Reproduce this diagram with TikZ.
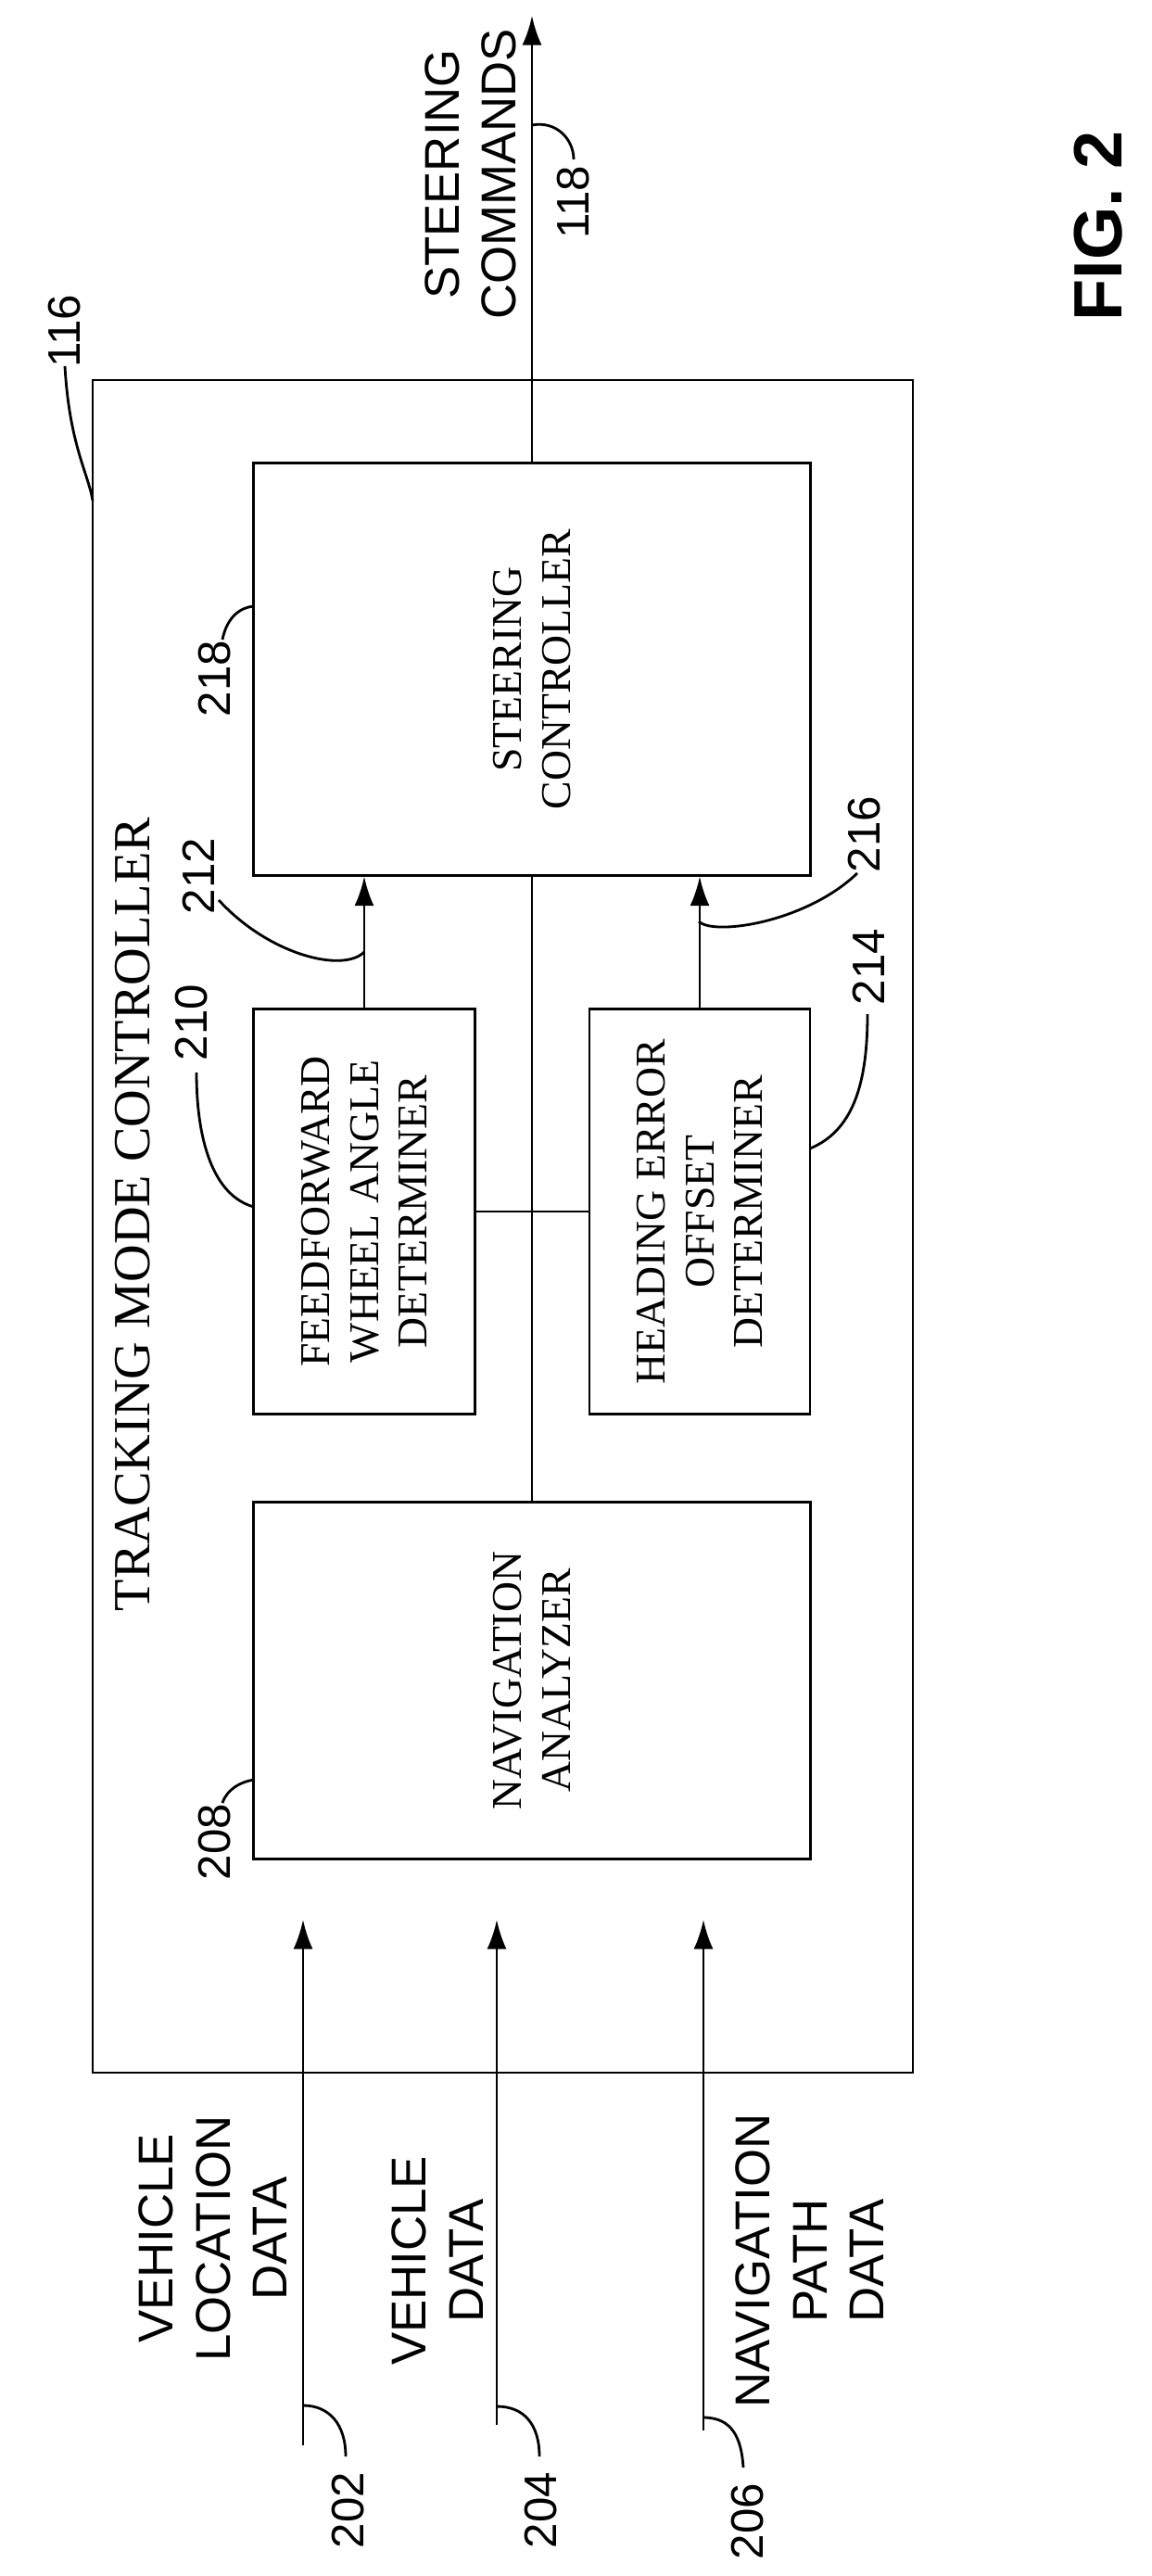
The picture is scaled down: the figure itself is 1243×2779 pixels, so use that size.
\documentclass[tikz,border=0pt]{standalone}
\usepackage{fontspec}
\setmainfont{Liberation Serif}
\setsansfont{Liberation Sans}
\usetikzlibrary{arrows.meta}

\tikzset{
  block/.style={draw, thick, rotate=90, align=center, font=\fontsize{13}{15}\selectfont},
  label/.style={rotate=90, font=\sffamily\fontsize{14}{16}\selectfont},
  data/.style={rotate=90, align=center, font=\sffamily\fontsize{15}{17.5}\selectfont},
  lead/.style={thick},
  flow/.style={thick, -{Latex[length=9pt,width=6pt]}}
}

\begin{document}
\begin{tikzpicture}[x=0.01cm, y=-0.01cm]
    \useasboundingbox (0,0) rectangle (1243,2779);

    % outer controller box
    \draw [thick] (100, 410) rectangle (985, 2236);
    \node [rotate=90, font=\fontsize{16}{18}\selectfont] (tmc) at (143, 1310) {TRACKING MODE CONTROLLER};

    % blocks
    \node [block, minimum width=4.44cm, minimum height=6.0cm] (steer) at (574, 722) {STEERING\\CONTROLLER};
    \node [block, minimum width=4.37cm, minimum height=2.39cm] (ffwd) at (393, 1307) {FEEDFORWARD\\WHEEL ANGLE\\DETERMINER};
    \node [block, minimum width=4.37cm, minimum height=2.38cm] (head) at (755, 1307) {HEADING ERROR\\OFFSET\\DETERMINER};
    \node [block, minimum width=3.84cm, minimum height=6.0cm] (nav) at (574, 1813) {NAVIGATION\\ANALYZER};

    % connections
    \draw [thick] (steer.west) -- (nav.east);
    \draw [thick] (ffwd.south) -- (head.north);
    \draw [flow] (ffwd.east) -- (ffwd.east |- steer.west);
    \draw [flow] (head.east) -- (head.east |- steer.west);
    \coordinate (out) at (574, 17);
    \draw [flow] (steer.east) -- (out);

    % inputs
    \coordinate (in1) at (327, 2638);
    \coordinate (in2) at (536, 2616);
    \coordinate (in3) at (759, 2622);
    \draw [flow] (in1) -- (327, 2071);
    \draw [flow] (in2) -- (536, 2071);
    \draw [flow] (in3) -- (759, 2071);
    \node [data] (d1) at (230, 2415) {VEHICLE\\LOCATION\\DATA};
    \node [data] (d2) at (472, 2439) {VEHICLE\\DATA};
    \node [data] (d3) at (874, 2439) {NAVIGATION\\PATH\\DATA};
    \node [data] (d4) at (508, 188) {STEERING\\COMMANDS};

    % reference numerals
    \node [label] (n116) at (70, 357) {116};
    \draw [lead] (70, 395) .. controls (75, 480) and (95, 510) .. (100, 540);
    \node [label] (n118) at (619, 218) {118};
    \draw [lead] (619, 172) .. controls (619, 150) and (600, 130) .. (574, 135);
    \node [label] (n218) at (232, 732) {218};
    \draw [lead] (240, 690) .. controls (245, 665) and (260, 655) .. (274, 654);
    \node [label] (n212) at (214, 945) {212};
    \draw [lead] (236, 971) .. controls (290, 1030) and (370, 1050) .. (393, 1027);
    \node [label] (n210) at (207, 1103) {210};
    \draw [lead] (212, 1157) .. controls (212, 1230) and (230, 1290) .. (274, 1302);
    \node [label] (n214) at (937, 1043) {214};
    \draw [lead] (936, 1094) .. controls (936, 1170) and (920, 1220) .. (874, 1239);
    \node [label] (n216) at (933, 900) {216};
    \draw [lead] (925, 942) .. controls (870, 995) and (770, 1010) .. (754, 994);
    \node [label] (n208) at (232, 1987) {208};
    \draw [lead] (240, 1945) .. controls (245, 1930) and (260, 1922) .. (274, 1920);
    \node [label] (n202) at (376, 2708) {202};
    \draw [lead] (373, 2650) .. controls (373, 2615) and (355, 2595) .. (327, 2595);
    \node [label] (n204) at (584, 2708) {204};
    \draw [lead] (582, 2650) .. controls (582, 2615) and (565, 2596) .. (536, 2596);
    \node [label] (n206) at (807, 2720) {206};
    \draw [lead] (802, 2662) .. controls (800, 2630) and (790, 2608) .. (759, 2608);

    \node [rotate=90, font=\sffamily\bfseries\fontsize{21}{24}\selectfont] (fig) at (1185, 244) {FIG. 2};
\end{tikzpicture}
\end{document}
